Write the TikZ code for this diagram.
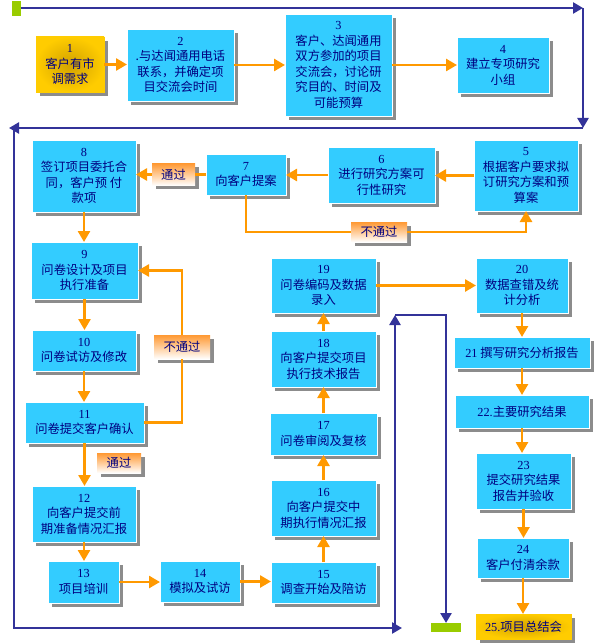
\documentclass[tikz,border=0pt]{standalone}
\usepackage{fontspec}
\setmainfont{Noto Sans CJK SC}
\newfontfamily\nmfont{Liberation Serif}
\usetikzlibrary{arrows.meta,shadows,calc}
\definecolor{boxc}{HTML}{33CCFF}
\definecolor{txtc}{HTML}{000080}
\definecolor{orc}{HTML}{FF9900}
\definecolor{blc}{HTML}{333399}
\definecolor{goldc}{HTML}{FFCC00}
\definecolor{goldd}{HTML}{D2A200}
\definecolor{shc}{HTML}{8C8C8C}
\definecolor{grc}{HTML}{99CC00}
\definecolor{lbo}{HTML}{FF9933}
\newcommand\nm[1]{{\nmfont #1}}
\begin{document}
\begin{tikzpicture}[x=1pt,y=-1pt,
  every node/.style={inner sep=0pt,outer sep=0pt},
  cbox/.style={draw=white,line width=0.8pt,fill=boxc,text=txtc,align=center,
    font=\fontsize{12.3}{15.5}\selectfont,
    drop shadow={shadow xshift=4pt,shadow yshift=-4pt,fill=shc,opacity=1}},
  gbox/.style={cbox,draw=goldc,inner color=goldd,outer color=goldc},
  lbl/.style={text=txtc,align=center,font=\fontsize{12.3}{14}\selectfont,
    top color=lbo,bottom color=white,
    drop shadow={shadow xshift=4pt,shadow yshift=-4pt,fill=shc,opacity=1}},
  gmark/.style={fill=grc},
  oline/.style={draw=orc,line width=2.6pt},
  oarr/.style={oline,-{Triangle[width=12pt,length=11pt]}},
  bline/.style={draw=blc,line width=2.6pt},
  barr/.style={bline,-{Triangle[width=11pt,length=10pt]}}
]
\useasboundingbox (0,0) rectangle (594,644);

% boxes
\node[gbox,minimum width=68pt,minimum height=55pt] (n1) at (70,64.5) {\nm{1}\\客户有市\\调需求};
\node[cbox,minimum width=107pt,minimum height=72pt] (n2) at (180.5,65) {\nm{2}\\.与达闻通用电话\\联系，并确定项\\目交流会时间};
\node[cbox,minimum width=107pt,minimum height=102pt] (n3) at (338.5,65) {\nm{3}\\客户、达闻通用\\双方参加的项目\\交流会，讨论研\\究目的、时间及\\可能预算};
\node[cbox,minimum width=92pt,minimum height=56pt] (n4) at (503,65) {\nm{4}\\建立专项研究\\小组};
\node[cbox,minimum width=104pt,minimum height=71pt] (n5) at (526,175.5) {\nm{5}\\根据客户要求拟\\订研究方案和预\\算案};
\node[cbox,minimum width=107pt,minimum height=56pt] (n6) at (381.5,175) {\nm{6}\\进行研究方案可\\行性研究};
\node[cbox,minimum width=80pt,minimum height=41pt] (n7) at (246,174.5) {\nm{7}\\向客户提案};
\node[cbox,minimum width=104pt,minimum height=72pt] (n8) at (84,176) {\nm{8}\\签订项目委托合\\同，客户预 付\\款项};
\node[cbox,minimum width=107pt,minimum height=57pt] (n9) at (84.5,270.5) {\nm{9}\\问卷设计及项目\\执行准备};
\node[cbox,minimum width=104pt,minimum height=41pt] (n10) at (84,350.5) {\nm{10}\\问卷试访及修改};
\node[cbox,minimum width=119pt,minimum height=41pt] (n11) at (84.5,422.5) {\nm{11}\\问卷提交客户确认};
\node[cbox,minimum width=104pt,minimum height=56pt] (n12) at (84,514) {\nm{12}\\向客户提交前\\期准备情况汇报};
\node[cbox,minimum width=71pt,minimum height=42pt] (n13) at (83.5,582) {\nm{13}\\项目培训};
\node[cbox,minimum width=80pt,minimum height=41pt] (n14) at (200,581.5) {\nm{14}\\模拟及试访};
\node[cbox,minimum width=105pt,minimum height=41pt] (n15) at (323.5,582.5) {\nm{15}\\调查开始及陪访};
\node[cbox,minimum width=105pt,minimum height=56pt] (n16) at (323.5,508) {\nm{16}\\向客户提交中\\期执行情况汇报};
\node[cbox,minimum width=107pt,minimum height=42pt] (n17) at (323.5,434) {\nm{17}\\问卷审阅及复核};
\node[cbox,minimum width=105pt,minimum height=56pt] (n18) at (323.5,359) {\nm{18}\\向客户提交项目\\执行技术报告};
\node[cbox,minimum width=105pt,minimum height=55pt] (n19) at (323.5,285.5) {\nm{19}\\问卷编码及数据\\录入};
\node[cbox,minimum width=92pt,minimum height=55pt] (n20) at (522,285.5) {\nm{20}\\数据查错及统\\计分析};
\node[cbox,minimum width=136pt,minimum height=31pt] (n21) at (522,352.5) {\nm{21} 撰写研究分析报告};
\node[cbox,minimum width=134pt,minimum height=33pt] (n22) at (522,411.5) {\nm{22.}主要研究结果};
\node[cbox,minimum width=95pt,minimum height=56pt] (n23) at (523.5,481) {\nm{23}\\提交研究结果\\报告并验收};
\node[cbox,minimum width=92pt,minimum height=40pt] (n24) at (523,558) {\nm{24}\\客户付清余款};
\node[gbox,minimum width=95pt,minimum height=25pt] (n25) at (523.5,626.5) {\nm{25.}项目总结会};

% labels
\node[lbl,minimum width=43pt,minimum height=22pt] (l1) at (173.5,174.5) {通过};
\node[lbl,minimum width=56pt,minimum height=20pt] (l2) at (379,232) {不通过};
\node[lbl,minimum width=56pt,minimum height=24pt] (l3) at (182,347) {不通过};
\node[lbl,minimum width=44pt,minimum height=20pt] (l4) at (119,463) {通过};

% green markers
\node[gmark,minimum width=9pt,minimum height=15pt] (g1) at (16.5,8.5) {};
\node[gmark,minimum width=30pt,minimum height=9pt] (g2) at (446,627.5) {};

% orange connectors
\draw[oarr] (n1.east) -- (n1.east -| n2.west);
\draw[oarr] (n2.east) -- (n2.east -| n3.west);
\draw[oarr] (n3.east) -- (n3.east -| n4.west);
\draw[oarr] (n5.west) -- (n5.west -| n6.east);
\draw[oarr] (n6.west) -- (n6.west -| n7.east);
\draw[oline] (n7.west) -- (n7.west -| l1.east);
\draw[oarr] (l1.west) -- (l1.west -| n8.east);
\draw[oline] (n7.south) |- (l2.west);
\draw[oarr] (l2.east) -| (n5.south);
\draw[oarr] (n8.south) -- (n8.south |- n9.north);
\draw[oarr] (n9.south) -- (n9.south |- n10.north);
\draw[oarr] (n10.south) -- (n10.south |- n11.north);
\draw[oline] (n11.east) -| (l3.south);
\draw[oarr] (l3.north) |- (n9.east);
\draw[oarr] (n11.south) -- (n11.south |- n12.north);
\draw[oarr] (n12.south) -- (n12.south |- n13.north);
\draw[oarr] (n13.east) -- (n13.east -| n14.west);
\draw[oarr] (n14.east) -- (n14.east -| n15.west);
\draw[oarr] (n15.north) -- (n15.north |- n16.south);
\draw[oarr] (n16.north) -- (n16.north |- n17.south);
\draw[oarr] (n17.north) -- (n17.north |- n18.south);
\draw[oarr] (n18.north) -- (n18.north |- n19.south);
\draw[oarr] (n19.east) -- (n19.east -| n20.west);
\draw[oarr] (n20.south) -- (n20.south |- n21.north);
\draw[oarr] (n21.south) -- (n21.south |- n22.north);
\draw[oarr] (n22.south) -- (n22.south |- n23.north);
\draw[oarr] (n23.south) -- (n23.south |- n24.north);
\draw[oarr] (n24.south) -- (n24.south |- n25.north);

% blue path
\coordinate (c1) at (583,8);
\coordinate (c2) at (583,128);
\coordinate (c3) at (9,128);
\coordinate (c4) at (14,128);
\coordinate (c5) at (14,628);
\coordinate (c6) at (402,628);
\coordinate (c7) at (395,628);
\coordinate (c8) at (395,315);
\coordinate (c9) at (446,315);
\draw[barr] (g1.east |- c1) -- (c1);
\draw[barr] (c1) -- (c2);
\draw[barr] (c2) -- (c3);
\draw[barr] (c4) -- (c5) -- (c6);
\draw[barr] (c7) -- (c8);
\draw[barr] (c8) -- (c9) -- (g2.north);
\end{tikzpicture}
\end{document}
